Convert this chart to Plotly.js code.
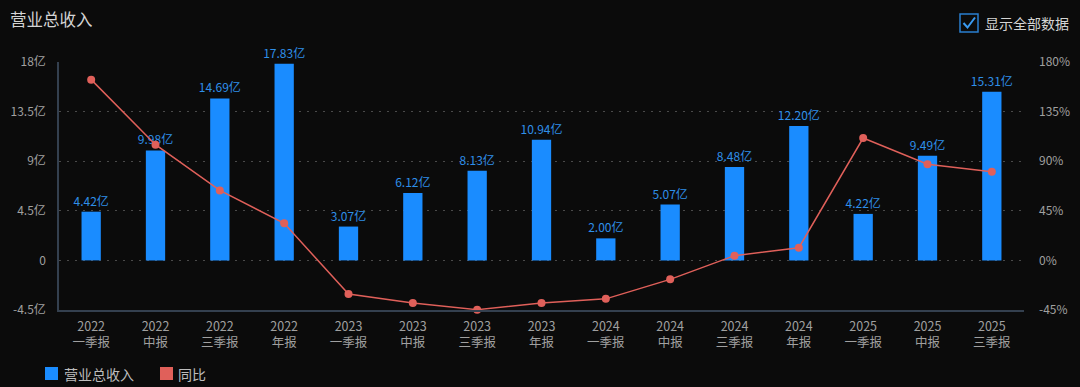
<!DOCTYPE html>
<html>
<head>
<meta charset="utf-8">
<script src="https://cdn.plot.ly/plotly-3.0.1.min.js"></script>
<style>
html,body{margin:0;padding:0;background:#0b0b0b;}
#chart{width:1080px;height:387px;}
</style>
</head>
<body>
<div id="chart"></div>
<script>
// ---- data ----
const categories = [
  "2022<br>一季报","2022<br>中报","2022<br>三季报","2022<br>年报",
  "2023<br>一季报","2023<br>中报","2023<br>三季报","2023<br>年报",
  "2024<br>一季报","2024<br>中报","2024<br>三季报","2024<br>年报",
  "2025<br>一季报","2025<br>中报","2025<br>三季报"
];
const revenue = [4.42, 9.98, 14.69, 17.83, 3.07, 6.12, 8.13, 10.94, 2.00, 5.07, 8.48, 12.20, 4.22, 9.49, 15.31];
const yoy = [164, 105, 63.5, 33.6, -30.5, -38.7, -44.7, -38.6, -34.9, -17.2, 4.3, 11.5, 111.0, 87.2, 80.5];
const leftTickVals = [-4.5, 0, 4.5, 9, 13.5, 18];
const leftTickText = ["-4.5亿", "0", "4.5亿", "9亿", "13.5亿", "18亿"];
const rightTickVals = [-45, 0, 45, 90, 135, 180];
const rightTickText = ["-45%", "0%", "45%", "90%", "135%", "180%"];
const seriesNames = ["营业总收入", "同比"];
const chartTitle = "营业总收入";
const toggleLabel = "显示全部数据";

// ---- styling ----
const FONT = "'Noto Sans CJK SC', 'Noto Sans', sans-serif";
const BLUE = "#1a8cff";
const RED = "#e0605a";
const W = 1080, H = 387;
const L = 59, R = 56, T = 62, B = 77;
const pw = W - L - R, ph = H - T - B;
const px = x => (x - L) / pw;
const py = y => (H - B - y) / ph;

const barTrace = {
  type: "bar",
  x: categories,
  y: revenue,
  name: seriesNames[0],
  marker: {color: BLUE},
  width: 0.3,
  text: revenue.map(v => v.toFixed(2) + "亿"),
  textposition: "outside",
  constraintext: "none",
  textfont: {color: "#2f8fe8", size: 12, family: FONT},
  cliponaxis: false,
  hoverinfo: "x+y",
  showlegend: false
};

const lineTrace = {
  type: "scatter",
  mode: "lines+markers",
  x: categories,
  y: yoy,
  yaxis: "y2",
  name: seriesNames[1],
  line: {color: RED, width: 1.5},
  marker: {color: RED, size: 8},
  cliponaxis: false,
  showlegend: false
};

const shapes = [
  // checkbox
  {type: "rect", xref: "paper", yref: "paper",
   x0: px(960), x1: px(978), y0: py(32), y1: py(14),
   line: {color: "#2a7fd0", width: 1.5}, fillcolor: "rgba(0,0,0,0)"},
  {type: "path", xref: "paper", yref: "paper",
   path: `M ${px(963.5)} ${py(23)} L ${px(967.5)} ${py(27.5)} L ${px(975)} ${py(17.5)}`,
   line: {color: "#3a9af0", width: 2}},
  // legend squares
  {type: "rect", xref: "paper", yref: "paper",
   x0: px(45), x1: px(58), y0: py(380), y1: py(367),
   line: {width: 0}, fillcolor: BLUE},
  {type: "rect", xref: "paper", yref: "paper",
   x0: px(160), x1: px(173), y0: py(380), y1: py(367),
   line: {width: 0}, fillcolor: RED}
];

const annotations = [
  {text: chartTitle, xref: "paper", yref: "paper", x: px(8), y: py(19),
   xanchor: "left", yanchor: "middle", showarrow: false,
   font: {size: 16.5, color: "#d4d4d4", family: FONT}},
  {text: toggleLabel, xref: "paper", yref: "paper", x: px(983), y: py(23),
   xanchor: "left", yanchor: "middle", showarrow: false,
   font: {size: 14, color: "#d4d4d4", family: FONT}},
  {text: seriesNames[0], xref: "paper", yref: "paper", x: px(62), y: py(373.5),
   xanchor: "left", yanchor: "middle", showarrow: false,
   font: {size: 14, color: "#bdbdbd", family: FONT}},
  {text: seriesNames[1], xref: "paper", yref: "paper", x: px(176), y: py(373.5),
   xanchor: "left", yanchor: "middle", showarrow: false,
   font: {size: 14, color: "#bdbdbd", family: FONT}}
];

const layout = {
  width: W, height: H,
  margin: {l: L, r: R, t: T, b: B, pad: 0},
  paper_bgcolor: "#0b0b0b",
  plot_bgcolor: "#0b0b0b",
  font: {family: FONT, color: "#a0a0a0"},
  showlegend: false,
  xaxis: {
    type: "category",
    range: [-0.5, categories.length - 0.5],
    showgrid: false,
    zeroline: false,
    showline: true,
    linecolor: "#34404f",
    linewidth: 1.5,
    ticks: "",
    tickfont: {size: 12.5, color: "#a0a0a0", family: FONT},
    ticklabelstandoff: 4,
    fixedrange: true
  },
  yaxis: {
    range: [-4.5, 18],
    tickvals: leftTickVals,
    ticktext: leftTickText,
    showgrid: true,
    gridcolor: "#4a4a4a",
    griddash: "2px,6px",
    gridwidth: 1,
    zeroline: false,
    showline: true,
    linecolor: "#34404f",
    linewidth: 1.5,
    ticks: "",
    ticklabelstandoff: 9,
    tickfont: {size: 12, color: "#a0a0a0", family: FONT},
    fixedrange: true
  },
  yaxis2: {
    range: [-45, 180],
    tickvals: rightTickVals,
    ticktext: rightTickText,
    overlaying: "y",
    side: "right",
    showgrid: false,
    zeroline: false,
    showline: false,
    ticks: "",
    ticklabelstandoff: 14,
    tickfont: {size: 12, color: "#a0a0a0", family: FONT},
    fixedrange: true
  },
  shapes: shapes,
  annotations: annotations
};

Plotly.newPlot("chart", [barTrace, lineTrace], layout, {displayModeBar: false});
</script>
</body>
</html>
